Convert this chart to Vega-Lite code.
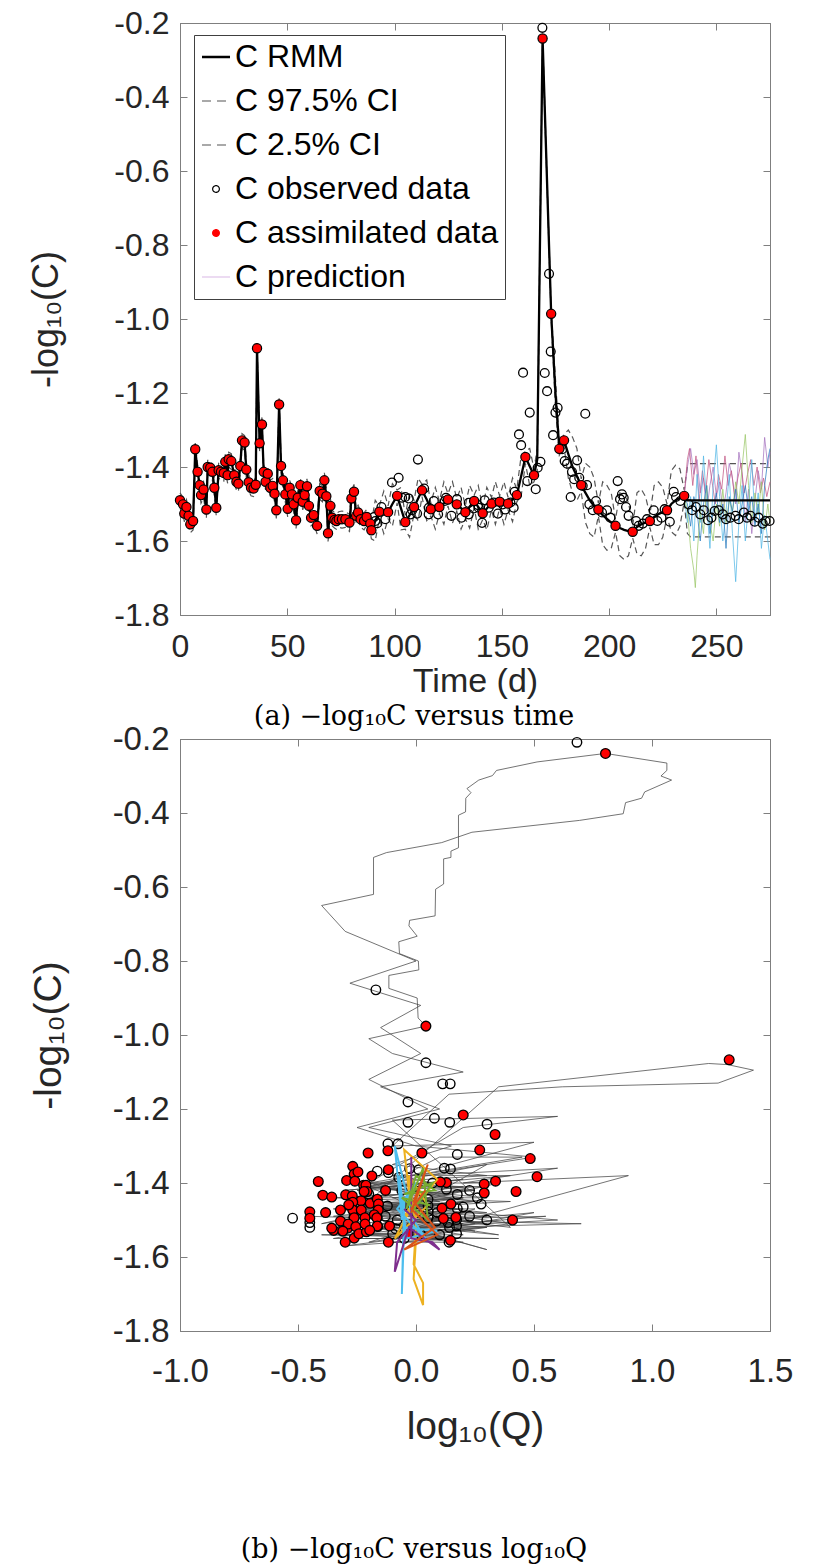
{
  "$schema": "https://vega.github.io/schema/vega-lite/v6.json",
  "padding": {"left": 27, "top": 6, "right": 5, "bottom": 5},
  "spacing": -9,
  "config": {
    "font": "Liberation Sans",
    "view": {"stroke": "#7f7f7f", "strokeWidth": 1},
    "axis": {"grid": false, "domainColor": "#7f7f7f", "tickColor": "#7f7f7f", "labelColor": "#262626", "titleColor": "#262626", "titleFontWeight": "normal", "labelFont": "Liberation Sans", "titleFont": "Liberation Sans", "domainWidth": 1, "tickWidth": 1, "labelFlush": false, "labelOverlap": false}
  },
  "resolve": {"scale": {"color": "independent", "stroke": "independent"}, "legend": {"color": "independent", "stroke": "independent"}},
  "datasets": {
    "rmm": [
      {"t":0,"c":-1.490,"hi":-1.470,"lo":-1.512},{"t":1.4,"c":-1.501,"hi":-1.482,"lo":-1.525},{"t":2.0,"c":-1.526,"hi":-1.505,"lo":-1.548},{"t":3.0,"c":-1.508,"hi":-1.488,"lo":-1.530},{"t":4.0,"c":-1.532,"hi":-1.512,"lo":-1.556},{"t":4.8,"c":-1.555,"hi":-1.534,"lo":-1.578},{"t":6.1,"c":-1.546,"hi":-1.525,"lo":-1.570},{"t":7.1,"c":-1.352,"hi":-1.335,"lo":-1.372},{"t":8.2,"c":-1.413,"hi":-1.393,"lo":-1.435},{"t":9.2,"c":-1.449,"hi":-1.428,"lo":-1.470},{"t":9.8,"c":-1.476,"hi":-1.455,"lo":-1.498},{"t":11.0,"c":-1.461,"hi":-1.440,"lo":-1.484},{"t":12.3,"c":-1.515,"hi":-1.494,"lo":-1.538},{"t":12.9,"c":-1.400,"hi":-1.382,"lo":-1.421},{"t":14.1,"c":-1.402,"hi":-1.383,"lo":-1.424},{"t":15.1,"c":-1.413,"hi":-1.392,"lo":-1.436},{"t":16.0,"c":-1.456,"hi":-1.436,"lo":-1.478},{"t":16.9,"c":-1.510,"hi":-1.490,"lo":-1.532},{"t":18.0,"c":-1.409,"hi":-1.390,"lo":-1.430},{"t":19.1,"c":-1.413,"hi":-1.393,"lo":-1.435},{"t":20.4,"c":-1.416,"hi":-1.396,"lo":-1.438},{"t":21.1,"c":-1.386,"hi":-1.366,"lo":-1.408},{"t":22.2,"c":-1.422,"hi":-1.402,"lo":-1.444},{"t":22.7,"c":-1.379,"hi":-1.360,"lo":-1.400},{"t":23.9,"c":-1.384,"hi":-1.364,"lo":-1.406},{"t":25.3,"c":-1.422,"hi":-1.402,"lo":-1.444},{"t":26.3,"c":-1.440,"hi":-1.420,"lo":-1.462},{"t":27.2,"c":-1.445,"hi":-1.425,"lo":-1.467},{"t":28.1,"c":-1.397,"hi":-1.377,"lo":-1.419},{"t":28.9,"c":-1.328,"hi":-1.310,"lo":-1.348},{"t":30.1,"c":-1.334,"hi":-1.315,"lo":-1.355},{"t":30.9,"c":-1.407,"hi":-1.387,"lo":-1.429},{"t":32.0,"c":-1.441,"hi":-1.421,"lo":-1.463},{"t":33.1,"c":-1.456,"hi":-1.436,"lo":-1.478},{"t":34.3,"c":-1.458,"hi":-1.438,"lo":-1.480},{"t":35.3,"c":-1.448,"hi":-1.428,"lo":-1.470},{"t":35.9,"c":-1.079,"hi":-1.065,"lo":-1.095},{"t":37.1,"c":-1.336,"hi":-1.316,"lo":-1.357},{"t":38.2,"c":-1.285,"hi":-1.266,"lo":-1.306},{"t":39.0,"c":-1.413,"hi":-1.393,"lo":-1.435},{"t":39.9,"c":-1.440,"hi":-1.420,"lo":-1.462},{"t":40.9,"c":-1.418,"hi":-1.398,"lo":-1.440},{"t":42.1,"c":-1.456,"hi":-1.436,"lo":-1.478},{"t":43.2,"c":-1.451,"hi":-1.431,"lo":-1.473},{"t":44.1,"c":-1.472,"hi":-1.452,"lo":-1.494},{"t":44.9,"c":-1.517,"hi":-1.497,"lo":-1.539},{"t":46.2,"c":-1.231,"hi":-1.214,"lo":-1.250},{"t":47.1,"c":-1.397,"hi":-1.377,"lo":-1.419},{"t":48.0,"c":-1.436,"hi":-1.416,"lo":-1.458},{"t":49.1,"c":-1.474,"hi":-1.454,"lo":-1.496},{"t":50.2,"c":-1.513,"hi":-1.493,"lo":-1.535},{"t":51.1,"c":-1.456,"hi":-1.436,"lo":-1.478},{"t":52.2,"c":-1.474,"hi":-1.454,"lo":-1.496},{"t":53.0,"c":-1.501,"hi":-1.481,"lo":-1.523},{"t":54.1,"c":-1.544,"hi":-1.524,"lo":-1.566},{"t":54.9,"c":-1.483,"hi":-1.463,"lo":-1.505},{"t":56.1,"c":-1.449,"hi":-1.429,"lo":-1.471},{"t":57.2,"c":-1.494,"hi":-1.474,"lo":-1.516},{"t":58.1,"c":-1.476,"hi":-1.456,"lo":-1.498},{"t":59.2,"c":-1.452,"hi":-1.432,"lo":-1.474},{"t":60.1,"c":-1.505,"hi":-1.485,"lo":-1.527},{"t":61.1,"c":-1.537,"hi":-1.517,"lo":-1.559},{"t":62.3,"c":-1.530,"hi":-1.510,"lo":-1.552},{"t":63.9,"c":-1.559,"hi":-1.539,"lo":-1.581},{"t":65.1,"c":-1.465,"hi":-1.445,"lo":-1.487},{"t":66.4,"c":-1.472,"hi":-1.452,"lo":-1.494},{"t":67.3,"c":-1.436,"hi":-1.416,"lo":-1.458},{"t":68.2,"c":-1.479,"hi":-1.459,"lo":-1.501},{"t":69.0,"c":-1.579,"hi":-1.559,"lo":-1.601},{"t":70.1,"c":-1.505,"hi":-1.485,"lo":-1.527},{"t":70.9,"c":-1.537,"hi":-1.517,"lo":-1.559},{"t":72.0,"c":-1.543,"hi":-1.523,"lo":-1.565},{"t":72.9,"c":-1.546,"hi":-1.526,"lo":-1.568},{"t":74.0,"c":-1.541,"hi":-1.521,"lo":-1.563},{"t":75.5,"c":-1.541,"hi":-1.519,"lo":-1.565},{"t":77.1,"c":-1.541,"hi":-1.521,"lo":-1.563},{"t":79.0,"c":-1.550,"hi":-1.528,"lo":-1.574},{"t":79.9,"c":-1.485,"hi":-1.465,"lo":-1.507},{"t":81.1,"c":-1.467,"hi":-1.447,"lo":-1.489},{"t":82.1,"c":-1.532,"hi":-1.512,"lo":-1.554},{"t":83.0,"c":-1.523,"hi":-1.503,"lo":-1.545},{"t":84.2,"c":-1.541,"hi":-1.521,"lo":-1.563},{"t":85.8,"c":-1.546,"hi":-1.524,"lo":-1.570},{"t":87.0,"c":-1.535,"hi":-1.515,"lo":-1.557},{"t":88.7,"c":-1.553,"hi":-1.530,"lo":-1.578},{"t":89.2,"c":-1.571,"hi":-1.550,"lo":-1.594},
      {"t":91.0,"c":-1.546,"hi":-1.490,"lo":-1.600},{"t":92.9,"c":-1.521,"hi":-1.505,"lo":-1.540},{"t":95.0,"c":-1.522,"hi":-1.465,"lo":-1.580},{"t":97.0,"c":-1.522,"hi":-1.505,"lo":-1.540},{"t":99.0,"c":-1.500,"hi":-1.445,"lo":-1.560},{"t":101.2,"c":-1.478,"hi":-1.462,"lo":-1.497},{"t":103.0,"c":-1.512,"hi":-1.455,"lo":-1.570},{"t":105.0,"c":-1.549,"hi":-1.530,"lo":-1.568},{"t":107.0,"c":-1.530,"hi":-1.470,"lo":-1.590},{"t":109.1,"c":-1.508,"hi":-1.490,"lo":-1.526},{"t":111.0,"c":-1.485,"hi":-1.430,"lo":-1.545},{"t":112.8,"c":-1.463,"hi":-1.447,"lo":-1.480},{"t":115.0,"c":-1.488,"hi":-1.435,"lo":-1.545},{"t":116.9,"c":-1.514,"hi":-1.497,"lo":-1.532},{"t":119.0,"c":-1.511,"hi":-1.455,"lo":-1.568},{"t":120.9,"c":-1.508,"hi":-1.492,"lo":-1.526},{"t":123.0,"c":-1.498,"hi":-1.440,"lo":-1.555},{"t":124.9,"c":-1.488,"hi":-1.472,"lo":-1.505},{"t":127.0,"c":-1.494,"hi":-1.440,"lo":-1.552},{"t":129.0,"c":-1.501,"hi":-1.485,"lo":-1.519},{"t":131.0,"c":-1.511,"hi":-1.455,"lo":-1.568},{"t":133.0,"c":-1.522,"hi":-1.505,"lo":-1.540},{"t":135.0,"c":-1.507,"hi":-1.450,"lo":-1.565},{"t":137.1,"c":-1.492,"hi":-1.476,"lo":-1.510},{"t":139.0,"c":-1.508,"hi":-1.450,"lo":-1.568},{"t":141.1,"c":-1.525,"hi":-1.508,"lo":-1.542},{"t":143.0,"c":-1.512,"hi":-1.455,"lo":-1.570},{"t":145.2,"c":-1.499,"hi":-1.482,"lo":-1.516},{"t":147.0,"c":-1.496,"hi":-1.440,"lo":-1.555},{"t":149.0,"c":-1.494,"hi":-1.478,"lo":-1.512},{"t":151.0,"c":-1.496,"hi":-1.440,"lo":-1.555},{"t":152.9,"c":-1.499,"hi":-1.482,"lo":-1.516},{"t":155.0,"c":-1.488,"hi":-1.430,"lo":-1.548},{"t":157.0,"c":-1.476,"hi":-1.460,"lo":-1.494},{"t":159.0,"c":-1.425,"hi":-1.370,"lo":-1.480},{"t":161.0,"c":-1.373,"hi":-1.357,"lo":-1.390},{"t":163.0,"c":-1.398,"hi":-1.350,"lo":-1.450},{"t":165.0,"c":-1.422,"hi":-1.405,"lo":-1.440},{"t":166.5,"c":-1.380,"hi":-1.350,"lo":-1.410},{"t":169.0,"c":-0.242,"hi":-0.230,"lo":-0.255},{"t":173.0,"c":-0.986,"hi":-0.975,"lo":-1.000},{"t":175.0,"c":-1.200,"hi":-1.160,"lo":-1.240},{"t":176.8,"c":-1.351,"hi":-1.335,"lo":-1.368},{"t":179.0,"c":-1.328,"hi":-1.312,"lo":-1.345},{"t":181.0,"c":-1.365,"hi":-1.300,"lo":-1.430},{"t":183.0,"c":-1.400,"hi":-1.320,"lo":-1.470},{"t":185.0,"c":-1.425,"hi":-1.350,"lo":-1.490},{"t":187.0,"c":-1.449,"hi":-1.432,"lo":-1.467},{"t":189.0,"c":-1.470,"hi":-1.390,"lo":-1.550},{"t":191.0,"c":-1.490,"hi":-1.400,"lo":-1.580},{"t":193.0,"c":-1.505,"hi":-1.430,"lo":-1.590},{"t":195.0,"c":-1.515,"hi":-1.498,"lo":-1.532},{"t":197.0,"c":-1.530,"hi":-1.440,"lo":-1.610},{"t":199.0,"c":-1.540,"hi":-1.450,"lo":-1.625},{"t":201.0,"c":-1.550,"hi":-1.470,"lo":-1.620},{"t":203.0,"c":-1.559,"hi":-1.542,"lo":-1.576},{"t":205.0,"c":-1.565,"hi":-1.470,"lo":-1.640},{"t":207.0,"c":-1.570,"hi":-1.475,"lo":-1.650},{"t":209.0,"c":-1.573,"hi":-1.495,"lo":-1.640},{"t":211.0,"c":-1.575,"hi":-1.558,"lo":-1.592},{"t":213.0,"c":-1.562,"hi":-1.470,"lo":-1.635},{"t":215.0,"c":-1.555,"hi":-1.460,"lo":-1.640},{"t":217.0,"c":-1.550,"hi":-1.480,"lo":-1.620},{"t":219.0,"c":-1.546,"hi":-1.529,"lo":-1.563},{"t":221.0,"c":-1.535,"hi":-1.450,"lo":-1.610},{"t":223.0,"c":-1.527,"hi":-1.440,"lo":-1.610},{"t":225.0,"c":-1.522,"hi":-1.455,"lo":-1.590},{"t":227.0,"c":-1.517,"hi":-1.500,"lo":-1.534},{"t":229.0,"c":-1.500,"hi":-1.410,"lo":-1.575},{"t":231.0,"c":-1.490,"hi":-1.395,"lo":-1.585},{"t":233.0,"c":-1.484,"hi":-1.405,"lo":-1.560},{"t":235.0,"c":-1.478,"hi":-1.462,"lo":-1.495},{"t":236.5,"c":-1.490,"hi":-1.400,"lo":-1.580},{"t":238.0,"c":-1.490,"hi":-1.391,"lo":-1.589},{"t":275.0,"c":-1.490,"hi":-1.391,"lo":-1.589}
    ],
    "obsa": [
      {"t":90.5,"c":-1.535},{"t":91.1,"c":-1.546},{"t":92.0,"c":-1.552},{"t":93.9,"c":-1.508},{"t":95.7,"c":-1.541},{"t":98.8,"c":-1.442},{"t":101.9,"c":-1.429},{"t":103.5,"c":-1.483},{"t":105.0,"c":-1.481},{"t":106.6,"c":-1.485},{"t":107.5,"c":-1.528},{"t":108.2,"c":-1.517},{"t":110.5,"c":-1.526},{"t":110.9,"c":-1.380},{"t":113.8,"c":-1.458},{"t":115.9,"c":-1.528},{"t":116.0,"c":-1.510},{"t":118.3,"c":-1.492},{"t":120.3,"c":-1.528},{"t":123.4,"c":-1.492},{"t":124.0,"c":-1.483},{"t":126.5,"c":-1.532},{"t":129.1,"c":-1.487},{"t":131.2,"c":-1.537},{"t":134.6,"c":-1.497},{"t":134.6,"c":-1.528},{"t":136.9,"c":-1.512},{"t":138.9,"c":-1.503},{"t":139.2,"c":-1.510},{"t":140.8,"c":-1.551},{"t":142.0,"c":-1.490},{"t":143.9,"c":-1.510},{"t":146.2,"c":-1.496},{"t":148.2,"c":-1.526},{"t":150.4,"c":-1.501},{"t":151.6,"c":-1.515},{"t":154.0,"c":-1.496},{"t":155.5,"c":-1.510},{"t":156.0,"c":-1.467},{"t":158.0,"c":-1.312},{"t":159.0,"c":-1.341},{"t":159.9,"c":-1.145},{"t":161.9,"c":-1.438},{"t":163.0,"c":-1.253},{"t":165.8,"c":-1.460},{"t":166.7,"c":-1.402},{"t":168.0,"c":-1.386},{"t":168.9,"c":-0.213},{"t":170.0,"c":-1.146},{"t":171.1,"c":-1.195},{"t":172.0,"c":-0.878},{"t":172.8,"c":-1.088},{"t":173.9,"c":-1.314},{"t":175.0,"c":-1.253},{"t":176.0,"c":-1.240},{"t":178.1,"c":-1.352},{"t":179.3,"c":-1.384},{"t":180.4,"c":-1.391},{"t":182.1,"c":-1.481},{"t":182.7,"c":-1.413},{"t":183.7,"c":-1.433},{"t":185.1,"c":-1.382},{"t":186.1,"c":-1.429},{"t":187.7,"c":-1.451},{"t":188.9,"c":-1.256},{"t":189.7,"c":-1.449},{"t":190.8,"c":-1.501},{"t":192.4,"c":-1.517},{"t":193.9,"c":-1.492},{"t":196.7,"c":-1.523},{"t":199.0,"c":-1.517},{"t":200.6,"c":-1.537},{"t":204.0,"c":-1.438},{"t":205.1,"c":-1.487},{"t":206.0,"c":-1.474},{"t":206.8,"c":-1.483},{"t":207.9,"c":-1.508},{"t":209.1,"c":-1.532},{"t":212.6,"c":-1.546},{"t":213.8,"c":-1.559},{"t":215.7,"c":-1.553},{"t":217.7,"c":-1.541},{"t":220.8,"c":-1.517},{"t":222.5,"c":-1.546},{"t":224.4,"c":-1.537},{"t":225.9,"c":-1.514},{"t":228.3,"c":-1.548},{"t":230.1,"c":-1.467},{"t":231.2,"c":-1.481},{"t":233.2,"c":-1.492},{"t":237.1,"c":-1.501},{"t":238.7,"c":-1.517},{"t":240.5,"c":-1.508},{"t":242.5,"c":-1.528},{"t":244.1,"c":-1.517},{"t":246.1,"c":-1.544},{"t":247.7,"c":-1.537},{"t":249.2,"c":-1.519},{"t":251.1,"c":-1.517},{"t":253.0,"c":-1.528},{"t":254.5,"c":-1.541},{"t":256.5,"c":-1.537},{"t":258.9,"c":-1.532},{"t":260.4,"c":-1.541},{"t":262.8,"c":-1.523},{"t":264.3,"c":-1.537},{"t":265.9,"c":-1.532},{"t":267.9,"c":-1.548},{"t":269.7,"c":-1.537},{"t":271.6,"c":-1.553},{"t":272.9,"c":-1.546},{"t":274.8,"c":-1.546}
    ],
    "asma": [
      {"t":0,"c":-1.490},{"t":1.4,"c":-1.501},{"t":2.0,"c":-1.526},{"t":3.0,"c":-1.508},{"t":4.0,"c":-1.532},{"t":4.8,"c":-1.555},{"t":6.1,"c":-1.546},{"t":7.1,"c":-1.352},{"t":8.2,"c":-1.413},{"t":9.2,"c":-1.449},{"t":9.8,"c":-1.476},{"t":11.0,"c":-1.461},{"t":12.3,"c":-1.515},{"t":12.9,"c":-1.400},{"t":14.1,"c":-1.402},{"t":15.1,"c":-1.413},{"t":16.0,"c":-1.456},{"t":16.9,"c":-1.510},{"t":18.0,"c":-1.409},{"t":19.1,"c":-1.413},{"t":20.4,"c":-1.416},{"t":21.1,"c":-1.386},{"t":22.2,"c":-1.422},{"t":22.7,"c":-1.379},{"t":23.9,"c":-1.384},{"t":25.3,"c":-1.422},{"t":26.3,"c":-1.440},{"t":27.2,"c":-1.445},{"t":28.1,"c":-1.397},{"t":28.9,"c":-1.328},{"t":30.1,"c":-1.334},{"t":30.9,"c":-1.407},{"t":32.0,"c":-1.441},{"t":33.1,"c":-1.456},{"t":34.3,"c":-1.458},{"t":35.3,"c":-1.448},{"t":35.9,"c":-1.079},{"t":37.1,"c":-1.336},{"t":38.2,"c":-1.285},{"t":39.0,"c":-1.413},{"t":39.9,"c":-1.440},{"t":40.9,"c":-1.418},{"t":42.1,"c":-1.456},{"t":43.2,"c":-1.451},{"t":44.1,"c":-1.472},{"t":44.9,"c":-1.517},{"t":46.2,"c":-1.231},{"t":47.1,"c":-1.397},{"t":48.0,"c":-1.436},{"t":49.1,"c":-1.474},{"t":50.2,"c":-1.513},{"t":51.1,"c":-1.456},{"t":52.2,"c":-1.474},{"t":53.0,"c":-1.501},{"t":54.1,"c":-1.544},{"t":54.9,"c":-1.483},{"t":56.1,"c":-1.449},{"t":57.2,"c":-1.494},{"t":58.1,"c":-1.476},{"t":59.2,"c":-1.452},{"t":60.1,"c":-1.505},{"t":61.1,"c":-1.537},{"t":62.3,"c":-1.530},{"t":63.9,"c":-1.559},{"t":65.1,"c":-1.465},{"t":66.4,"c":-1.472},{"t":67.3,"c":-1.436},{"t":68.2,"c":-1.479},{"t":69.0,"c":-1.579},{"t":70.1,"c":-1.505},{"t":70.9,"c":-1.537},{"t":72.0,"c":-1.543},{"t":72.9,"c":-1.546},{"t":74.0,"c":-1.541},{"t":75.5,"c":-1.541},{"t":77.1,"c":-1.541},{"t":79.0,"c":-1.550},{"t":79.9,"c":-1.485},{"t":81.1,"c":-1.467},{"t":82.1,"c":-1.532},{"t":83.0,"c":-1.523},{"t":84.2,"c":-1.541},{"t":85.8,"c":-1.546},{"t":87.0,"c":-1.535},{"t":88.7,"c":-1.553},{"t":89.2,"c":-1.571},
      {"t":92.9,"c":-1.521},{"t":97.0,"c":-1.522},{"t":101.2,"c":-1.478},{"t":105.0,"c":-1.549},{"t":109.1,"c":-1.508},{"t":112.8,"c":-1.463},{"t":116.9,"c":-1.514},{"t":120.9,"c":-1.508},{"t":124.9,"c":-1.488},{"t":129.0,"c":-1.501},{"t":133.0,"c":-1.522},{"t":137.1,"c":-1.492},{"t":141.1,"c":-1.525},{"t":145.2,"c":-1.499},{"t":149.0,"c":-1.494},{"t":152.9,"c":-1.499},{"t":157.0,"c":-1.476},{"t":161.0,"c":-1.373},{"t":165.0,"c":-1.422},{"t":169.0,"c":-0.242},{"t":173.0,"c":-0.986},{"t":176.8,"c":-1.351},{"t":179.0,"c":-1.328},{"t":187.0,"c":-1.449},{"t":195.0,"c":-1.515},{"t":203.0,"c":-1.559},{"t":211.0,"c":-1.575},{"t":219.0,"c":-1.546},{"t":227.0,"c":-1.517},{"t":235.0,"c":-1.478}
    ],
    "preda": [
      {"m":"p1","t":235,"c":-1.478},{"m":"p1","t":236.5,"c":-1.40},{"m":"p1","t":238,"c":-1.35},{"m":"p1","t":239.5,"c":-1.42},{"m":"p1","t":241,"c":-1.38},{"m":"p1","t":242.5,"c":-1.47},{"m":"p1","t":244,"c":-1.43},{"m":"p1","t":245.5,"c":-1.52},{"m":"p1","t":247,"c":-1.45},{"m":"p1","t":248.5,"c":-1.40},{"m":"p1","t":250,"c":-1.48},{"m":"p1","t":251.5,"c":-1.44},{"m":"p1","t":253,"c":-1.52},{"m":"p1","t":254.5,"c":-1.47},{"m":"p1","t":256,"c":-1.39},{"m":"p1","t":257.5,"c":-1.43},{"m":"p1","t":259,"c":-1.50},{"m":"p1","t":260.5,"c":-1.36},{"m":"p1","t":262,"c":-1.42},{"m":"p1","t":263.5,"c":-1.55},{"m":"p1","t":265,"c":-1.46},{"m":"p1","t":266.5,"c":-1.58},{"m":"p1","t":268,"c":-1.49},{"m":"p1","t":269.5,"c":-1.41},{"m":"p1","t":271,"c":-1.46},{"m":"p1","t":272.5,"c":-1.32},{"m":"p1","t":274,"c":-1.40},{"m":"p1","t":275,"c":-1.36},
      {"m":"p2","t":235,"c":-1.478},{"m":"p2","t":236.5,"c":-1.38},{"m":"p2","t":237.5,"c":-1.35},{"m":"p2","t":239,"c":-1.45},{"m":"p2","t":240.5,"c":-1.37},{"m":"p2","t":242,"c":-1.49},{"m":"p2","t":243.5,"c":-1.41},{"m":"p2","t":245,"c":-1.47},{"m":"p2","t":246.5,"c":-1.38},{"m":"p2","t":248,"c":-1.44},{"m":"p2","t":249.5,"c":-1.50},{"m":"p2","t":251,"c":-1.42},{"m":"p2","t":252.5,"c":-1.46},{"m":"p2","t":254,"c":-1.37},{"m":"p2","t":255.5,"c":-1.45},{"m":"p2","t":257,"c":-1.41},{"m":"p2","t":258.5,"c":-1.48},{"m":"p2","t":260,"c":-1.43},{"m":"p2","t":261.5,"c":-1.39},{"m":"p2","t":263,"c":-1.47},{"m":"p2","t":264.5,"c":-1.42},{"m":"p2","t":266,"c":-1.38},{"m":"p2","t":267.5,"c":-1.45},{"m":"p2","t":269,"c":-1.40},{"m":"p2","t":270.5,"c":-1.47},{"m":"p2","t":272,"c":-1.43},{"m":"p2","t":273.5,"c":-1.48},{"m":"p2","t":275,"c":-1.44},
      {"m":"p3","t":235,"c":-1.478},{"m":"p3","t":236.5,"c":-1.55},{"m":"p3","t":238,"c":-1.48},{"m":"p3","t":239.5,"c":-1.60},{"m":"p3","t":241,"c":-1.42},{"m":"p3","t":242.5,"c":-1.55},{"m":"p3","t":244,"c":-1.37},{"m":"p3","t":245.5,"c":-1.50},{"m":"p3","t":247,"c":-1.62},{"m":"p3","t":248.5,"c":-1.45},{"m":"p3","t":250,"c":-1.34},{"m":"p3","t":251.5,"c":-1.48},{"m":"p3","t":253,"c":-1.60},{"m":"p3","t":254.5,"c":-1.52},{"m":"p3","t":256,"c":-1.42},{"m":"p3","t":257.5,"c":-1.58},{"m":"p3","t":259,"c":-1.71},{"m":"p3","t":260.5,"c":-1.55},{"m":"p3","t":262,"c":-1.45},{"m":"p3","t":263.5,"c":-1.60},{"m":"p3","t":265,"c":-1.50},{"m":"p3","t":266.5,"c":-1.38},{"m":"p3","t":268,"c":-1.55},{"m":"p3","t":269.5,"c":-1.47},{"m":"p3","t":271,"c":-1.62},{"m":"p3","t":272.5,"c":-1.53},{"m":"p3","t":274,"c":-1.60},{"m":"p3","t":275,"c":-1.65},
      {"m":"p4","t":235,"c":-1.478},{"m":"p4","t":236.5,"c":-1.52},{"m":"p4","t":238,"c":-1.62},{"m":"p4","t":239.5,"c":-1.68},{"m":"p4","t":240.2,"c":-1.726},{"m":"p4","t":241,"c":-1.64},{"m":"p4","t":242.5,"c":-1.52},{"m":"p4","t":244,"c":-1.58},{"m":"p4","t":245.5,"c":-1.45},{"m":"p4","t":247,"c":-1.55},{"m":"p4","t":248.5,"c":-1.60},{"m":"p4","t":250,"c":-1.50},{"m":"p4","t":251.5,"c":-1.56},{"m":"p4","t":253,"c":-1.46},{"m":"p4","t":254.5,"c":-1.55},{"m":"p4","t":256,"c":-1.49},{"m":"p4","t":257.5,"c":-1.52},{"m":"p4","t":259,"c":-1.44},{"m":"p4","t":260.5,"c":-1.50},{"m":"p4","t":262,"c":-1.40},{"m":"p4","t":263.5,"c":-1.312},{"m":"p4","t":265,"c":-1.45},{"m":"p4","t":266.5,"c":-1.55},{"m":"p4","t":268,"c":-1.47},{"m":"p4","t":269.5,"c":-1.53},{"m":"p4","t":271,"c":-1.44},{"m":"p4","t":272.5,"c":-1.57},{"m":"p4","t":274,"c":-1.50},{"m":"p4","t":275,"c":-1.55},
      {"m":"p5","t":235,"c":-1.478},{"m":"p5","t":236.5,"c":-1.50},{"m":"p5","t":238,"c":-1.56},{"m":"p5","t":239.5,"c":-1.48},{"m":"p5","t":241,"c":-1.52},{"m":"p5","t":242.5,"c":-1.60},{"m":"p5","t":244,"c":-1.50},{"m":"p5","t":245.5,"c":-1.45},{"m":"p5","t":247,"c":-1.58},{"m":"p5","t":248.5,"c":-1.52},{"m":"p5","t":250,"c":-1.47},{"m":"p5","t":251.5,"c":-1.55},{"m":"p5","t":253,"c":-1.50},{"m":"p5","t":254.5,"c":-1.62},{"m":"p5","t":256,"c":-1.48},{"m":"p5","t":257.5,"c":-1.52},{"m":"p5","t":259,"c":-1.46},{"m":"p5","t":260.5,"c":-1.55},{"m":"p5","t":262,"c":-1.50},{"m":"p5","t":263.5,"c":-1.45},{"m":"p5","t":265,"c":-1.52},{"m":"p5","t":266.5,"c":-1.48},{"m":"p5","t":268,"c":-1.56},{"m":"p5","t":269.5,"c":-1.50},{"m":"p5","t":271,"c":-1.58},{"m":"p5","t":272.5,"c":-1.45},{"m":"p5","t":274,"c":-1.38},{"m":"p5","t":275,"c":-1.35}
    ],
    "trajb": [
      {"i":1,"q":-0.45,"c":-1.49},{"i":2,"q":0.10,"c":-1.50},{"i":3,"q":-0.30,"c":-1.52},{"i":4,"q":0.20,"c":-1.51},{"i":5,"q":-0.35,"c":-1.53},{"i":6,"q":0.15,"c":-1.55},{"i":7,"q":-0.25,"c":-1.55},{"i":8,"q":0.30,"c":-1.35},{"i":9,"q":-0.20,"c":-1.41},{"i":10,"q":0.25,"c":-1.45},{"i":11,"q":-0.30,"c":-1.47},{"i":12,"q":0.10,"c":-1.46},{"i":13,"q":-0.40,"c":-1.51},{"i":14,"q":0.35,"c":-1.40},{"i":15,"q":-0.15,"c":-1.40},{"i":16,"q":0.20,"c":-1.41},{"i":17,"q":-0.30,"c":-1.45},{"i":18,"q":0.15,"c":-1.51},{"i":19,"q":-0.20,"c":-1.41},{"i":20,"q":0.30,"c":-1.41},{"i":21,"q":-0.25,"c":-1.42},{"i":22,"q":0.20,"c":-1.39},{"i":23,"q":-0.30,"c":-1.42},{"i":24,"q":0.40,"c":-1.38},{"i":25,"q":-0.10,"c":-1.38},{"i":26,"q":0.25,"c":-1.42},{"i":27,"q":-0.35,"c":-1.44},{"i":28,"q":0.10,"c":-1.45},{"i":29,"q":-0.20,"c":-1.40},{"i":30,"q":0.45,"c":-1.33},{"i":31,"q":0.10,"c":-1.33},{"i":32,"q":-0.15,"c":-1.41},{"i":33,"q":0.20,"c":-1.44},{"i":34,"q":-0.30,"c":-1.46},{"i":35,"q":0.10,"c":-1.46},{"i":36,"q":-0.20,"c":-1.45},{"i":37,"q":0.35,"c":-1.14},{"i":38,"q":1.24,"c":-1.077},{"i":39,"q":1.32,"c":-1.08},{"i":40,"q":1.43,"c":-1.095},{"i":41,"q":1.28,"c":-1.13},{"i":42,"q":0.62,"c":-1.14},{"i":43,"q":0.14,"c":-1.16},{"i":44,"q":-0.10,"c":-1.30},{"i":45,"q":0.50,"c":-1.29},{"i":46,"q":-0.20,"c":-1.41},{"i":47,"q":0.30,"c":-1.44},{"i":48,"q":-0.30,"c":-1.44},{"i":49,"q":0.20,"c":-1.42},{"i":50,"q":-0.10,"c":-1.46},{"i":51,"q":0.25,"c":-1.45},{"i":52,"q":-0.25,"c":-1.47},{"i":53,"q":0.40,"c":-1.52},{"i":54,"q":-0.10,"c":-1.23},{"i":55,"q":0.60,"c":-1.22},{"i":56,"q":0.20,"c":-1.25},{"i":57,"q":-0.20,"c":-1.40},{"i":58,"q":0.15,"c":-1.44},{"i":59,"q":-0.35,"c":-1.47},{"i":60,"q":0.30,"c":-1.51},{"i":61,"q":-0.20,"c":-1.46},{"i":62,"q":0.20,"c":-1.47},{"i":63,"q":-0.30,"c":-1.50},{"i":64,"q":0.35,"c":-1.54},{"i":65,"q":-0.25,"c":-1.48},{"i":66,"q":0.20,"c":-1.45},{"i":67,"q":-0.35,"c":-1.49},{"i":68,"q":0.30,"c":-1.48},{"i":69,"q":-0.15,"c":-1.45},{"i":70,"q":0.25,"c":-1.51},{"i":71,"q":-0.30,"c":-1.54},{"i":72,"q":0.10,"c":-1.53},{"i":73,"q":-0.20,"c":-1.56},{"i":74,"q":0.25,"c":-1.47},{"i":75,"q":-0.30,"c":-1.47},{"i":76,"q":0.20,"c":-1.44},{"i":77,"q":-0.25,"c":-1.48},{"i":78,"q":0.30,"c":-1.58},{"i":79,"q":-0.10,"c":-1.51},{"i":80,"q":0.20,"c":-1.54},{"i":81,"q":-0.40,"c":-1.54},{"i":82,"q":0.35,"c":-1.55},{"i":83,"q":-0.20,"c":-1.55},{"i":84,"q":0.10,"c":-1.55},{"i":85,"q":-0.35,"c":-1.55},{"i":86,"q":0.20,"c":-1.48},{"i":87,"q":-0.30,"c":-1.47},{"i":88,"q":0.25,"c":-1.53},{"i":89,"q":-0.20,"c":-1.52},{"i":90,"q":0.15,"c":-1.55},{"i":91,"q":-0.30,"c":-1.57},{"i":92,"q":0.30,"c":-1.52},{"i":93,"q":-0.20,"c":-1.52},{"i":94,"q":0.50,"c":-1.48},{"i":95,"q":-0.10,"c":-1.55},{"i":96,"q":0.40,"c":-1.51},{"i":97,"q":-0.15,"c":-1.46},{"i":98,"q":0.60,"c":-1.50},{"i":99,"q":0.00,"c":-1.52},{"i":100,"q":0.55,"c":-1.49},{"i":101,"q":-0.10,"c":-1.50},{"i":102,"q":0.70,"c":-1.51},{"i":103,"q":0.10,"c":-1.52},{"i":104,"q":0.90,"c":-1.38},{"i":105,"q":0.20,"c":-1.40},{"i":106,"q":0.60,"c":-1.36},{"i":107,"q":0.00,"c":-1.38},{"i":108,"q":0.50,"c":-1.33},{"i":109,"q":0.00,"c":-1.30},{"i":110,"q":-0.25,"c":-1.25},{"i":111,"q":0.05,"c":-1.20},{"i":112,"q":-0.20,"c":-1.12},{"i":113,"q":0.02,"c":-1.05},{"i":114,"q":-0.15,"c":-0.98},{"i":115,"q":0.02,"c":-0.92},{"i":116,"q":-0.28,"c":-0.86},{"i":117,"q":0.00,"c":-0.80},{"i":118,"q":-0.30,"c":-0.72},{"i":119,"q":-0.40,"c":-0.65},{"i":120,"q":-0.18,"c":-0.62},{"i":120.5,"q":-0.18,"c":-0.52},{"i":121,"q":-0.125,"c":-0.507},{"i":122,"q":0.109,"c":-0.48},{"i":123,"q":0.237,"c":-0.452},{"i":124,"q":0.693,"c":-0.42},{"i":125,"q":0.878,"c":-0.402},{"i":126,"q":0.888,"c":-0.372},{"i":127,"q":0.956,"c":-0.360},{"i":128,"q":0.969,"c":-0.343},{"i":129,"q":1.083,"c":-0.311},{"i":130,"q":1.038,"c":-0.300},{"i":131,"q":1.063,"c":-0.285},{"i":132,"q":1.063,"c":-0.265},{"i":133,"q":0.803,"c":-0.239},{"i":134,"q":0.513,"c":-0.262},{"i":135,"q":0.341,"c":-0.285},{"i":136,"q":0.324,"c":-0.299},{"i":137,"q":0.266,"c":-0.311},{"i":138,"q":0.216,"c":-0.334},{"i":139,"q":0.233,"c":-0.345},{"i":140,"q":0.211,"c":-0.360},{"i":141,"q":0.210,"c":-0.397},{"i":142,"q":0.180,"c":-0.406},{"i":143,"q":0.180,"c":-0.494},{"i":144,"q":0.148,"c":-0.503},{"i":145,"q":0.148,"c":-0.520},{"i":146,"q":0.117,"c":-0.524},{"i":147,"q":0.117,"c":-0.592},{"i":148,"q":0.083,"c":-0.606},{"i":149,"q":0.081,"c":-0.678},{"i":150,"q":-0.027,"c":-0.690},{"i":151,"q":-0.030,"c":-0.705},{"i":152,"q":0.005,"c":-0.733},{"i":153,"q":-0.073,"c":-0.748},{"i":154,"q":-0.070,"c":-0.780},{"i":155,"q":0.010,"c":-0.800},{"i":156,"q":0.012,"c":-0.824},{"i":157,"q":-0.115,"c":-0.839},{"i":158,"q":-0.115,"c":-0.874},{"i":159,"q":0.005,"c":-0.900},{"i":160,"q":0.009,"c":-0.954},{"i":161,"q":0.042,"c":-0.976},{"i":162,"q":-0.20,"c":-1.01},{"i":163,"q":-0.10,"c":-1.05},{"i":164,"q":0.20,"c":-1.10},{"i":165,"q":-0.15,"c":-1.14},{"i":166,"q":0.10,"c":-1.20},{"i":167,"q":-0.20,"c":-1.25},{"i":168,"q":0.15,"c":-1.30},{"i":169,"q":-0.10,"c":-1.35},{"i":170,"q":0.30,"c":-1.38},{"i":171,"q":-0.20,"c":-1.40},{"i":172,"q":0.25,"c":-1.42},{"i":173,"q":-0.10,"c":-1.44},{"i":174,"q":0.40,"c":-1.45},{"i":175,"q":-0.15,"c":-1.47},{"i":176,"q":0.30,"c":-1.49},{"i":177,"q":-0.10,"c":-1.50},{"i":178,"q":0.30,"c":-1.52},{"i":179,"q":-0.20,"c":-1.54},{"i":180,"q":0.20,"c":-1.56},{"i":181,"q":-0.10,"c":-1.56},{"i":182,"q":0.15,"c":-1.55},{"i":183,"q":-0.05,"c":-1.52},{"i":184,"q":0.10,"c":-1.50},{"i":185,"q":-0.05,"c":-1.49}
    ],
    "obsb": [
      {"q":0.682,"c":-0.209},{"q":-0.17,"c":-0.878},{"q":0.042,"c":-1.075},{"q":0.113,"c":-1.132},{"q":0.145,"c":-1.132},{"q":-0.034,"c":-1.181},{"q":-0.034,"c":-1.236},{"q":0.078,"c":-1.225},{"q":0.143,"c":-1.236},{"q":0.301,"c":-1.241},{"q":0.175,"c":-1.323},{"q":0.146,"c":-1.362},{"q":-0.119,"c":-1.294},{"q":-0.076,"c":-1.294},{"q":-0.164,"c":-1.368},{"q":0.227,"c":-1.420},{"q":0.175,"c":-1.431},{"q":0.129,"c":-1.417},{"q":0.276,"c":-1.457},{"q":0.200,"c":-1.465},{"q":0.227,"c":-1.490},{"q":0.175,"c":-1.469},{"q":0.172,"c":-1.499},{"q":0.172,"c":-1.516},{"q":0.172,"c":-1.537},{"q":0.136,"c":-1.507},{"q":0.142,"c":-1.520},{"q":0.051,"c":-1.444},{"q":0.051,"c":-1.461},{"q":0.051,"c":-1.477},{"q":0.051,"c":-1.494},{"q":0.086,"c":-1.503},{"q":0.018,"c":-1.537},{"q":-0.086,"c":-1.524},{"q":-0.099,"c":-1.537},{"q":-0.164,"c":-1.493},{"q":-0.162,"c":-1.518},{"q":-0.121,"c":-1.462},{"q":-0.117,"c":-1.372},{"q":-0.263,"c":-1.476},{"q":-0.263,"c":-1.493},{"q":-0.314,"c":-1.528},{"q":0.012,"c":-1.364},{"q":-0.027,"c":-1.361},{"q":-0.073,"c":-1.385},{"q":-0.523,"c":-1.495},{"q":-0.450,"c":-1.507},{"q":-0.450,"c":-1.520},{"q":-0.06,"c":-1.42},{"q":-0.05,"c":-1.46},{"q":-0.08,"c":-1.50},{"q":0.0,"c":-1.48},{"q":0.02,"c":-1.42},{"q":-0.02,"c":-1.52},{"q":0.09,"c":-1.48},{"q":0.30,"c":-1.50},{"q":0.26,"c":-1.44},{"q":-0.20,"c":-1.43},{"q":-0.13,"c":-1.49},{"q":0.10,"c":-1.54},{"q":0.14,"c":-1.56},{"q":-0.05,"c":-1.55},{"q":0.07,"c":-1.40},{"q":0.12,"c":-1.36}
    ],
    "asmb": [
      {"q":0.803,"c":-0.239},{"q":1.327,"c":-1.067},{"q":0.042,"c":-0.976},{"q":0.200,"c":-1.216},{"q":0.335,"c":-1.269},{"q":-0.203,"c":-1.319},{"q":-0.119,"c":-1.313},{"q":0.025,"c":-1.319},{"q":0.270,"c":-1.311},{"q":0.484,"c":-1.334},{"q":0.513,"c":-1.383},{"q":0.337,"c":-1.395},{"q":0.289,"c":-1.403},{"q":0.289,"c":-1.427},{"q":0.424,"c":-1.423},{"q":0.129,"c":-1.399},{"q":0.110,"c":-1.468},{"q":0.148,"c":-1.457},{"q":0.116,"c":-1.496},{"q":0.169,"c":-1.493},{"q":0.146,"c":-1.555},{"q":0.409,"c":-1.500},{"q":-0.414,"c":-1.396},{"q":-0.395,"c":-1.433},{"q":-0.357,"c":-1.438},{"q":-0.450,"c":-1.478},{"q":-0.450,"c":-1.495},{"q":-0.383,"c":-1.480},{"q":-0.349,"c":-1.528},{"q":-0.320,"c":-1.473},{"q":-0.320,"c":-1.503},{"q":-0.298,"c":-1.432},{"q":-0.290,"c":-1.522},{"q":-0.268,"c":-1.355},{"q":-0.262,"c":-1.376},{"q":-0.246,"c":-1.370},{"q":-0.294,"c":-1.393},{"q":-0.259,"c":-1.395},{"q":-0.270,"c":-1.435},{"q":-0.233,"c":-1.448},{"q":-0.268,"c":-1.452},{"q":-0.268,"c":-1.473},{"q":-0.232,"c":-1.473},{"q":-0.262,"c":-1.494},{"q":-0.216,"c":-1.494},{"q":-0.287,"c":-1.511},{"q":-0.255,"c":-1.518},{"q":-0.262,"c":-1.549},{"q":-0.242,"c":-1.537},{"q":-0.210,"c":-1.532},{"q":-0.222,"c":-1.406},{"q":-0.212,"c":-1.406},{"q":-0.207,"c":-1.423},{"q":-0.220,"c":-1.423},{"q":-0.194,"c":-1.455},{"q":-0.164,"c":-1.444},{"q":-0.159,"c":-1.457},{"q":-0.160,"c":-1.473},{"q":-0.177,"c":-1.486},{"q":-0.166,"c":-1.494},{"q":-0.164,"c":-1.516},{"q":-0.216,"c":-1.511},{"q":-0.196,"c":-1.528},{"q":-0.187,"c":-1.381},{"q":-0.129,"c":-1.420},{"q":-0.117,"c":-1.364},{"q":-0.112,"c":-1.516},{"q":-0.117,"c":-1.560},{"q":0.103,"c":-1.397},{"q":-0.034,"c":-1.537},{"q":-0.285,"c":-1.459},{"q":-0.357,"c":-1.522},{"q":-0.310,"c":-1.530},{"q":-0.300,"c":-1.560}
    ],
    "predb": [
      {"m":"b1","i":1,"q":-0.02,"c":-1.48},{"m":"b1","i":2,"q":-0.05,"c":-1.31},{"m":"b1","i":3,"q":0.09,"c":-1.39},{"m":"b1","i":4,"q":0.04,"c":-1.43},{"m":"b1","i":5,"q":-0.06,"c":-1.50},{"m":"b1","i":6,"q":0.02,"c":-1.42},{"m":"b1","i":7,"q":-0.09,"c":-1.55},{"m":"b1","i":8,"q":0.05,"c":-1.46},{"m":"b1","i":9,"q":-0.03,"c":-1.38},{"m":"b1","i":10,"q":0.00,"c":-1.52},{"m":"b1","i":11,"q":-0.01,"c":-1.62},{"m":"b1","i":12,"q":0.03,"c":-1.67},{"m":"b1","i":13,"q":0.03,"c":-1.73},{"m":"b1","i":14,"q":-0.01,"c":-1.66},{"m":"b1","i":15,"q":0.00,"c":-1.55},
      {"m":"b2","i":1,"q":-0.02,"c":-1.48},{"m":"b2","i":2,"q":-0.09,"c":-1.30},{"m":"b2","i":3,"q":-0.06,"c":-1.50},{"m":"b2","i":4,"q":-0.07,"c":-1.38},{"m":"b2","i":5,"q":-0.04,"c":-1.55},{"m":"b2","i":6,"q":0.09,"c":-1.53},{"m":"b2","i":7,"q":-0.05,"c":-1.52},{"m":"b2","i":8,"q":-0.06,"c":-1.70},{"m":"b2","i":9,"q":-0.05,"c":-1.45},{"m":"b2","i":10,"q":0.00,"c":-1.40},{"m":"b2","i":11,"q":-0.08,"c":-1.47},{"m":"b2","i":12,"q":0.04,"c":-1.55},{"m":"b2","i":13,"q":-0.02,"c":-1.49},
      {"m":"b3","i":1,"q":-0.02,"c":-1.48},{"m":"b3","i":2,"q":-0.02,"c":-1.33},{"m":"b3","i":3,"q":-0.02,"c":-1.55},{"m":"b3","i":4,"q":0.07,"c":-1.56},{"m":"b3","i":5,"q":0.10,"c":-1.58},{"m":"b3","i":6,"q":-0.03,"c":-1.52},{"m":"b3","i":7,"q":-0.07,"c":-1.60},{"m":"b3","i":8,"q":-0.09,"c":-1.64},{"m":"b3","i":9,"q":-0.08,"c":-1.56},{"m":"b3","i":10,"q":0.00,"c":-1.50},{"m":"b3","i":11,"q":-0.05,"c":-1.47},
      {"m":"b4","i":1,"q":-0.02,"c":-1.48},{"m":"b4","i":2,"q":0.07,"c":-1.40},{"m":"b4","i":3,"q":-0.05,"c":-1.43},{"m":"b4","i":4,"q":0.08,"c":-1.42},{"m":"b4","i":5,"q":0.00,"c":-1.38},{"m":"b4","i":6,"q":-0.04,"c":-1.47},{"m":"b4","i":7,"q":0.03,"c":-1.36},{"m":"b4","i":8,"q":0.05,"c":-1.50},{"m":"b4","i":9,"q":-0.06,"c":-1.44},{"m":"b4","i":10,"q":0.06,"c":-1.46},
      {"m":"b5","i":1,"q":-0.02,"c":-1.48},{"m":"b5","i":2,"q":0.05,"c":-1.35},{"m":"b5","i":3,"q":-0.01,"c":-1.45},{"m":"b5","i":4,"q":0.08,"c":-1.52},{"m":"b5","i":5,"q":-0.05,"c":-1.58},{"m":"b5","i":6,"q":0.09,"c":-1.54},{"m":"b5","i":7,"q":-0.02,"c":-1.47},{"m":"b5","i":8,"q":0.04,"c":-1.42}
    ]
  },
  "vconcat": [
    {
      "width": 590,
      "height": 592,
      "title": {"text": "(a)   \u2212log\u2081\u2080C  versus time", "orient": "bottom", "anchor": "middle", "dx": -61, "offset": 6, "fontSize": 27, "font": "DejaVu Serif", "fontWeight": "normal", "color": "#000000"},
      "resolve": {"axis": {"x": "independent", "y": "independent"}},
      "layer": [
        {
          "data": {"name": "rmm"},
          "mark": {"type": "line", "stroke": "#555555", "strokeWidth": 1.2, "strokeDash": [6, 4]},
          "encoding": {
            "x": {"field": "t", "type": "quantitative", "scale": {"domain": [0, 275], "nice": false, "zero": false},
              "axis": {"orient": "bottom", "values": [0, 50, 100, 150, 200, 250], "format": "d", "title": "Time (d)", "titleFontSize": 34, "titlePadding": 2, "labelFontSize": 32, "labelPadding": 23, "tickSize": -7}},
            "y": {"field": "hi", "type": "quantitative", "scale": {"domain": [-1.8, -0.2], "nice": false, "zero": false},
              "axis": {"orient": "left", "values": [-1.8, -1.6, -1.4, -1.2, -1.0, -0.8, -0.6, -0.4, -0.2], "labelExpr": "replace(format(datum.value, '.1f'), '\u2212', '-')", "title": "-log\u2081\u2080(C)", "titleFontSize": 36, "titleX": -134, "titleBaseline": "middle", "labelFontSize": 32, "labelPadding": 18, "tickSize": -7}}
          }
        },
        {
          "data": {"name": "rmm"},
          "mark": {"type": "line", "stroke": "#555555", "strokeWidth": 1.2, "strokeDash": [6, 4]},
          "encoding": {
            "x": {"field": "t", "type": "quantitative", "scale": {"domain": [0, 275], "nice": false, "zero": false},
              "axis": {"orient": "top", "values": [0, 50, 100, 150, 200, 250], "labels": false, "title": null, "tickSize": -7}},
            "y": {"field": "lo", "type": "quantitative", "scale": {"domain": [-1.8, -0.2], "nice": false, "zero": false},
              "axis": {"orient": "right", "values": [-1.8, -1.6, -1.4, -1.2, -1.0, -0.8, -0.6, -0.4, -0.2], "labels": false, "title": null, "tickSize": -7}}
          }
        },
        {
          "data": {"name": "preda"},
          "mark": {"type": "line", "strokeWidth": 0.9, "opacity": 0.85},
          "encoding": {
            "x": {"field": "t", "type": "quantitative", "scale": {"domain": [0, 275], "nice": false, "zero": false}, "axis": null},
            "y": {"field": "c", "type": "quantitative", "scale": {"domain": [-1.8, -0.2], "nice": false, "zero": false}, "axis": null},
            "stroke": {"field": "m", "type": "nominal", "scale": {"domain": ["p1", "p2", "p3", "p4", "p5"], "range": ["#a775c0", "#c25a86", "#55b8e6", "#9cc86a", "#2f7fc1"]}, "legend": null}
          }
        },
        {
          "data": {"name": "rmm"},
          "mark": {"type": "line", "strokeWidth": 2.3},
          "encoding": {
            "x": {"field": "t", "type": "quantitative", "scale": {"domain": [0, 275], "nice": false, "zero": false}, "axis": null},
            "y": {"field": "c", "type": "quantitative", "scale": {"domain": [-1.8, -0.2], "nice": false, "zero": false}, "axis": null},
            "color": {"datum": "C RMM", "type": "nominal",
              "scale": {"domain": ["C RMM", "C 97.5% CI", "C 2.5% CI", "C observed data", "C assimilated data", "C prediction"], "range": ["#000000", "#555555", "#555555", "#000000", "#ff0000", "#d9b8e6"]},
              "legend": {"title": null, "orient": "none", "legendX": 14, "legendY": 12, "padding": 6, "strokeColor": "#404040", "fillColor": "#ffffff", "labelFontSize": 32, "labelFont": "Liberation Sans", "labelColor": "#000000", "labelLimit": 400, "rowPadding": 12, "symbolSize": 784, "labelOffset": 3, "symbolType": "stroke",
                "encode": {"symbols": {"update": {
                  "shape": {"signal": "(datum.value === 'C observed data' || datum.value === 'C assimilated data') ? 'circle' : 'stroke'"},
                  "size": {"signal": "(datum.value === 'C observed data' || datum.value === 'C assimilated data') ? 45 : 784"},
                  "fill": {"signal": "datum.value === 'C assimilated data' ? '#ff0000' : (datum.value === 'C observed data' ? '#ffffff' : 'transparent')"},
                  "stroke": {"signal": "datum.value === 'C prediction' ? '#d9b8e6' : ((datum.value === 'C 97.5% CI' || datum.value === 'C 2.5% CI') ? '#555555' : '#000000')"},
                  "strokeWidth": {"signal": "datum.value === 'C RMM' ? 2.5 : 1.2"},
                  "strokeDash": {"signal": "(datum.value === 'C 97.5% CI' || datum.value === 'C 2.5% CI') ? [9, 6] : [1, 0]"},
                  "opacity": {"value": 1}
                }}}
              }
            }
          }
        },
        {
          "data": {"name": "obsa"},
          "mark": {"type": "point", "shape": "circle", "filled": false, "color": "#000000", "strokeWidth": 1.3, "size": 78, "opacity": 1},
          "encoding": {
            "x": {"field": "t", "type": "quantitative", "scale": {"domain": [0, 275], "nice": false, "zero": false}, "axis": null},
            "y": {"field": "c", "type": "quantitative", "scale": {"domain": [-1.8, -0.2], "nice": false, "zero": false}, "axis": null}
          }
        },
        {
          "data": {"name": "asma"},
          "mark": {"type": "point", "shape": "circle", "filled": true, "fill": "#ff0000", "stroke": "#000000", "strokeWidth": 1.2, "size": 85, "opacity": 1},
          "encoding": {
            "x": {"field": "t", "type": "quantitative", "scale": {"domain": [0, 275], "nice": false, "zero": false}, "axis": null},
            "y": {"field": "c", "type": "quantitative", "scale": {"domain": [-1.8, -0.2], "nice": false, "zero": false}, "axis": null}
          }
        }
      ]
    },
    {
      "width": 590,
      "height": 592,
      "title": {"text": "(b) \u2212log\u2081\u2080C  versus  log\u2081\u2080Q", "orient": "bottom", "anchor": "middle", "dx": -61, "offset": 91, "fontSize": 27, "font": "DejaVu Serif", "fontWeight": "normal", "color": "#000000"},
      "resolve": {"axis": {"x": "independent", "y": "independent"}},
      "layer": [
        {
          "data": {"name": "trajb"},
          "mark": {"type": "line", "stroke": "#454545", "strokeWidth": 0.75},
          "encoding": {
            "x": {"field": "q", "type": "quantitative", "scale": {"domain": [-1, 1.5], "nice": false, "zero": false},
              "axis": {"orient": "bottom", "values": [-1, -0.5, 0, 0.5, 1, 1.5], "labelExpr": "replace(format(datum.value, '.1f'), '\u2212', '-')", "title": "log\u2081\u2080(Q)", "titleFontSize": 39, "titlePadding": 19, "labelFontSize": 33, "labelPadding": 31, "tickSize": -7}},
            "y": {"field": "c", "type": "quantitative", "scale": {"domain": [-1.8, -0.2], "nice": false, "zero": false},
              "axis": {"orient": "left", "values": [-1.8, -1.6, -1.4, -1.2, -1.0, -0.8, -0.6, -0.4, -0.2], "labelExpr": "replace(format(datum.value, '.1f'), '\u2212', '-')", "title": "-log\u2081\u2080(C)", "titleFontSize": 39, "titleX": -131.5, "titleBaseline": "middle", "labelFontSize": 33, "labelPadding": 18, "tickSize": -7}},
            "order": {"field": "i", "type": "quantitative"}
          }
        },
        {
          "data": {"name": "obsb"},
          "mark": {"type": "point", "shape": "circle", "filled": false, "color": "#000000", "strokeWidth": 1.4, "size": 90, "opacity": 1},
          "encoding": {
            "x": {"field": "q", "type": "quantitative", "scale": {"domain": [-1, 1.5], "nice": false, "zero": false},
              "axis": {"orient": "top", "values": [-1, -0.5, 0, 0.5, 1, 1.5], "labels": false, "title": null, "tickSize": -7}},
            "y": {"field": "c", "type": "quantitative", "scale": {"domain": [-1.8, -0.2], "nice": false, "zero": false},
              "axis": {"orient": "right", "values": [-1.8, -1.6, -1.4, -1.2, -1.0, -0.8, -0.6, -0.4, -0.2], "labels": false, "title": null, "tickSize": -7}}
          }
        },
        {
          "data": {"name": "asmb"},
          "mark": {"type": "point", "shape": "circle", "filled": true, "fill": "#ff0000", "stroke": "#000000", "strokeWidth": 1.3, "size": 95, "opacity": 1},
          "encoding": {
            "x": {"field": "q", "type": "quantitative", "scale": {"domain": [-1, 1.5], "nice": false, "zero": false}, "axis": null},
            "y": {"field": "c", "type": "quantitative", "scale": {"domain": [-1.8, -0.2], "nice": false, "zero": false}, "axis": null}
          }
        },
        {
          "data": {"name": "predb"},
          "mark": {"type": "line", "strokeWidth": 2},
          "encoding": {
            "x": {"field": "q", "type": "quantitative", "scale": {"domain": [-1, 1.5], "nice": false, "zero": false}, "axis": null},
            "y": {"field": "c", "type": "quantitative", "scale": {"domain": [-1.8, -0.2], "nice": false, "zero": false}, "axis": null},
            "stroke": {"field": "m", "type": "nominal", "scale": {"domain": ["b1", "b2", "b3", "b4", "b5"], "range": ["#EDB120", "#4DBEEE", "#7E2F8E", "#77AC30", "#D95319"]}, "legend": null},
            "order": {"field": "i", "type": "quantitative"}
          }
        }
      ]
    }
  ]
}
